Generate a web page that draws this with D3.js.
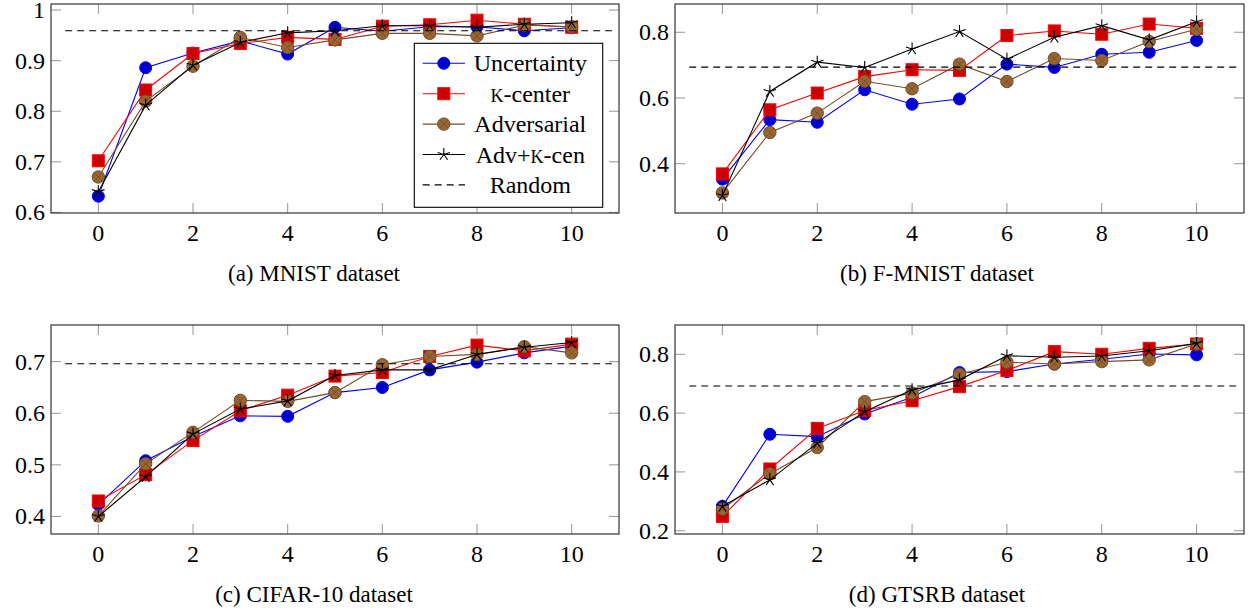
<!DOCTYPE html>
<html><head><meta charset="utf-8">
<script src="https://cdn.jsdelivr.net/npm/d3@7"></script>
<style>
html,body{margin:0;padding:0;background:#fff;}
svg{display:block;}
</style></head>
<body>
<svg id="chart" width="1248" height="611" font-family="'Liberation Serif', Tinos, 'DejaVu Serif', serif"></svg>
<script>
// ---- data ----
const rounds = [0,1,2,3,4,5,6,7,8,9,10];
const seriesNames = ["Uncertainty","K-center","Adversarial","Adv+K-cen"];
const xTicks = [0,2,4,6,8,10];

const mnistUncertainty = [0.632,0.886,0.915,0.939,0.913,0.966,0.958,0.967,0.967,0.959,0.965];
const mnistKCenter     = [0.702,0.842,0.914,0.934,0.946,0.942,0.968,0.971,0.980,0.972,0.966];
const mnistAdversarial = [0.670,0.820,0.889,0.946,0.926,0.941,0.954,0.954,0.949,0.970,0.967];
const mnistAdvKCen     = [0.641,0.812,0.891,0.936,0.955,0.959,0.969,0.969,0.966,0.972,0.975];
const mnistRandom = 0.959;
const mnistYTicks = [0.6,0.7,0.8,0.9,1];

const fmnistUncertainty = [0.353,0.534,0.526,0.625,0.581,0.597,0.703,0.693,0.733,0.739,0.775];
const fmnistKCenter     = [0.369,0.564,0.615,0.665,0.686,0.684,0.790,0.804,0.794,0.825,0.812];
const fmnistAdversarial = [0.311,0.495,0.554,0.651,0.628,0.703,0.650,0.720,0.714,0.772,0.809];
const fmnistAdvKCen     = [0.303,0.620,0.709,0.693,0.749,0.802,0.718,0.785,0.820,0.777,0.832];
const fmnistRandom = 0.694;
const fmnistYTicks = [0.4,0.6,0.8];

const cifarUncertainty = [0.423,0.508,0.555,0.595,0.594,0.640,0.650,0.684,0.699,0.717,0.730];
const cifarKCenter     = [0.430,0.481,0.547,0.605,0.635,0.672,0.679,0.710,0.732,0.721,0.734];
const cifarAdversarial = [0.401,0.502,0.563,0.625,0.623,0.640,0.694,0.710,0.714,0.729,0.717];
const cifarAdvKCen     = [0.400,0.477,0.560,0.608,0.624,0.673,0.684,0.684,0.714,0.728,0.737];
const cifarRandom = 0.696;
const cifarYTicks = [0.4,0.5,0.6,0.7];

const gtsrbUncertainty = [0.283,0.528,0.520,0.597,0.654,0.738,0.741,0.767,0.783,0.801,0.798];
const gtsrbKCenter     = [0.249,0.410,0.548,0.609,0.642,0.690,0.745,0.809,0.800,0.820,0.835];
const gtsrbAdversarial = [0.274,0.394,0.483,0.639,0.668,0.732,0.773,0.767,0.775,0.781,0.835];
const gtsrbAdvKCen     = [0.283,0.373,0.498,0.605,0.679,0.713,0.795,0.790,0.794,0.812,0.837];
const gtsrbRandom = 0.692;
const gtsrbYTicks = [0.2,0.4,0.6,0.8];

const captions = ["(a) MNIST dataset","(b) F-MNIST dataset","(c) CIFAR-10 dataset","(d) GTSRB dataset"];

// ---- styles ----
const styles = [
  {line:"#0000ff", fill:"#0000cc", stroke:"#0000ff", mark:"circle"},
  {line:"#ff0000", fill:"#cc0000", stroke:"#ff0000", mark:"square"},
  {line:"#734d26", fill:"#996633", stroke:"#734d26", mark:"otimes"},
  {line:"#000000", fill:"none",    stroke:"#000000", mark:"star"}
];

const panels = [
  {left:51,  top:4,   w:568, h:209, ydom:[0.5988,1.012], yticks:mnistYTicks,
   series:[mnistUncertainty,mnistKCenter,mnistAdversarial,mnistAdvKCen], random:mnistRandom, capX:314, capY:281, legend:true},
  {left:675, top:4,   w:569, h:209, ydom:[0.250,0.886], yticks:fmnistYTicks,
   series:[fmnistUncertainty,fmnistKCenter,fmnistAdversarial,fmnistAdvKCen], random:fmnistRandom, capX:937, capY:281},
  {left:51,  top:325, w:568, h:209, ydom:[0.366,0.771], yticks:cifarYTicks,
   series:[cifarUncertainty,cifarKCenter,cifarAdversarial,cifarAdvKCen], random:cifarRandom, capX:314, capY:602},
  {left:675, top:325, w:569, h:209, ydom:[0.189,0.8995], yticks:gtsrbYTicks,
   series:[gtsrbUncertainty,gtsrbKCenter,gtsrbAdversarial,gtsrbAdvKCen], random:gtsrbRandom, capX:937, capY:602}
];

const svg = d3.select("#chart");

function drawMark(g, st, x, y){
  if(st.mark==="circle"){
    g.append("circle").attr("cx",x).attr("cy",y).attr("r",6)
      .attr("fill",st.fill).attr("stroke",st.stroke).attr("stroke-width",1);
  } else if(st.mark==="square"){
    g.append("rect").attr("x",x-6).attr("y",y-6).attr("width",12).attr("height",12)
      .attr("fill",st.fill).attr("stroke",st.stroke).attr("stroke-width",1);
  } else if(st.mark==="otimes"){
    g.append("circle").attr("cx",x).attr("cy",y).attr("r",6.2)
      .attr("fill",st.fill).attr("stroke",st.stroke).attr("stroke-width",1);
    const d=4.4;
    g.append("path").attr("d",`M${x-d},${y-d}L${x+d},${y+d}M${x-d},${y+d}L${x+d},${y-d}`)
      .attr("stroke",st.stroke).attr("stroke-width",0.9).attr("fill","none");
  } else {
    const r=6.5; let p="";
    for(let k=0;k<5;k++){
      const a=-Math.PI/2 + k*2*Math.PI/5;
      p+=`M${x},${y}L${x+r*Math.cos(a)},${y+r*Math.sin(a)}`;
    }
    g.append("path").attr("d",p).attr("stroke","#000").attr("stroke-width",1.1).attr("fill","none");
  }
}

const FONT = "'Liberation Serif', Tinos, 'DejaVu Serif', serif";

panels.forEach((P,pi)=>{
  const g = svg.append("g").attr("font-family",FONT);
  const x = d3.scaleLinear().domain([-1,11]).range([P.left, P.left+P.w]);
  const y = d3.scaleLinear().domain(P.ydom).range([P.top+P.h, P.top]);

  // ticks (inward, gray, on all four sides)
  const tg = g.append("g").attr("stroke","#8a8a8a").attr("stroke-width",0.9);
  xTicks.forEach(t=>{
    tg.append("line").attr("x1",x(t)).attr("x2",x(t)).attr("y1",P.top+P.h).attr("y2",P.top+P.h-10);
    tg.append("line").attr("x1",x(t)).attr("x2",x(t)).attr("y1",P.top).attr("y2",P.top+10);
  });
  P.yticks.forEach(t=>{
    tg.append("line").attr("x1",P.left).attr("x2",P.left+10).attr("y1",y(t)).attr("y2",y(t));
    tg.append("line").attr("x1",P.left+P.w).attr("x2",P.left+P.w-10).attr("y1",y(t)).attr("y2",y(t));
  });

  // tick labels
  xTicks.forEach(t=>{
    g.append("text").attr("x",x(t)).attr("y",P.top+P.h+28).attr("text-anchor","middle")
      .attr("font-size",24).text(String(t));
  });
  P.yticks.forEach(t=>{
    g.append("text").attr("x",P.left-6).attr("y",y(t)+8).attr("text-anchor","end")
      .attr("font-size",24).text(String(+t.toFixed(2)));
  });

  const plot = g.append("g");

  const line = d3.line().x((d,i)=>x(rounds[i])).y(d=>y(d));
  P.series.forEach((s,si)=>{
    const st = styles[si];
    plot.append("path").datum(s).attr("d",line).attr("fill","none")
      .attr("stroke",st.line).attr("stroke-width",1.1);
    const mg = plot.append("g");
    s.forEach((v,i)=> drawMark(mg, st, x(rounds[i]), y(v)));
  });

  // random baseline
  plot.append("line").attr("x1",x(-0.7)).attr("x2",x(10.85)).attr("y1",y(P.random)).attr("y2",y(P.random))
    .attr("stroke","#000").attr("stroke-width",1.1).attr("stroke-dasharray","7,5");

  // frame
  g.append("rect").attr("x",P.left).attr("y",P.top).attr("width",P.w).attr("height",P.h)
    .attr("fill","none").attr("stroke","#333").attr("stroke-width",1.2);

  // caption
  g.append("text").attr("x",P.capX).attr("y",P.capY).attr("text-anchor","middle")
    .attr("font-size",23).text(captions[pi]);

  if(P.legend){
    const lg = g.append("g");
    const lx0 = P.left+363.3, ly0 = P.top+39.3;
    lg.append("rect").attr("x",lx0).attr("y",ly0).attr("width",188.4).attr("height",164)
      .attr("fill","#fff").attr("stroke","#000").attr("stroke-width",1.1);
    const rowY = i => ly0 + 20 + i*30.4;
    const entries = seriesNames.concat(["Random"]);
    entries.forEach((name,i)=>{
      const yy = rowY(i);
      const ln = lg.append("line").attr("x1",lx0+8.4).attr("x2",lx0+50.7).attr("y1",yy).attr("y2",yy)
        .attr("stroke-width",1.1);
      if(i<4){
        ln.attr("stroke",styles[i].line);
        drawMark(lg, styles[i], lx0+29.5, yy);
      } else {
        ln.attr("stroke","#000").attr("stroke-dasharray","7,5");
      }
      const t = lg.append("text").attr("x",lx0+116).attr("y",yy+8).attr("text-anchor","middle").attr("font-size",24);
      if(name.indexOf("K-")>=0){
        const parts = name.split("K");
        t.append("tspan").text(parts[0]);
        t.append("tspan").attr("font-size",18).text("K");
        t.append("tspan").text(parts[1]);
      } else {
        t.text(name);
      }
    });
  }
});
</script>
</body></html>
